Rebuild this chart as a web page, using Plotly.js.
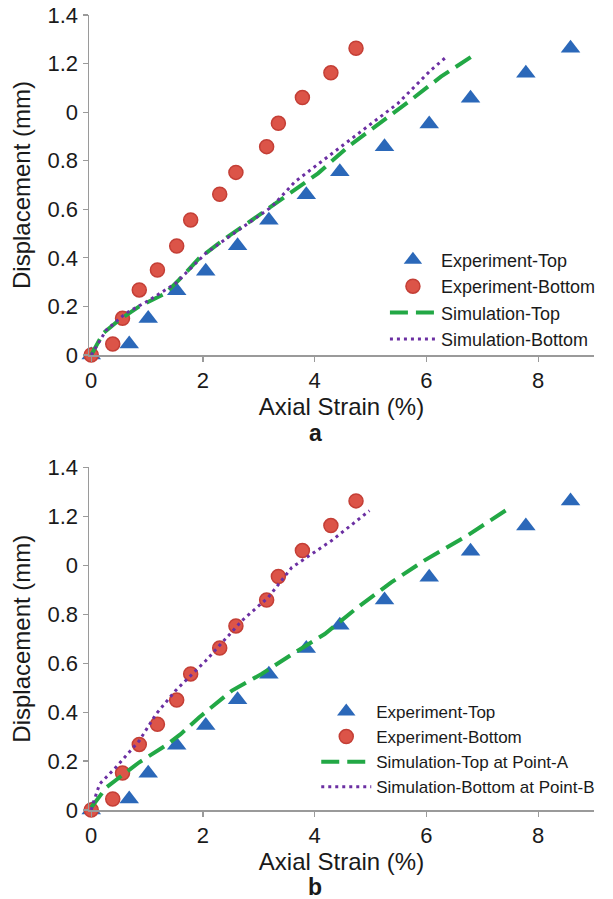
<!DOCTYPE html>
<html>
<head>
<meta charset="utf-8">
<script src="https://cdn.plot.ly/plotly-3.0.1.min.js"></script>
<style>
html,body{margin:0;padding:0;background:#fff;}
#chart{width:613px;height:899px;}
</style>
</head>
<body>
<div id="chart"></div>
<script>
// Experimental data (shared by both panels)
var expTopX = [0, 0.68, 1.02, 1.53, 2.05, 2.62, 3.18, 3.85, 4.45, 5.25, 6.05, 6.79, 7.78, 8.58];
var expTopY = [0, 0.045, 0.15, 0.265, 0.345, 0.45, 0.555, 0.66, 0.755, 0.858, 0.951, 1.057, 1.16, 1.263];
var expBotX = [0, 0.385, 0.56, 0.86, 1.185, 1.53, 1.78, 2.30, 2.59, 3.14, 3.35, 3.78, 4.29, 4.74];
var expBotY = [0, 0.045, 0.151, 0.268, 0.35, 0.449, 0.556, 0.662, 0.752, 0.858, 0.954, 1.06, 1.162, 1.263];

// Panel a simulations
var simTopAX = [0, 0.21, 0.5, 0.86, 1.33, 1.57, 1.93, 2.40, 2.88, 3.47, 3.71, 4.06, 4.6, 5.13, 5.72, 6.26, 6.85];
var simTopAY = [0, 0.089, 0.144, 0.2, 0.254, 0.309, 0.398, 0.48, 0.556, 0.652, 0.693, 0.748, 0.858, 0.947, 1.05, 1.146, 1.235];
var simBotAX = [0, 0.05, 0.27, 0.62, 1.04, 1.51, 2.05, 2.64, 3.23, 3.65, 4.24, 4.89, 5.49, 6.08, 6.35];
var simBotAY = [0, 0.02, 0.103, 0.172, 0.226, 0.295, 0.419, 0.515, 0.61, 0.714, 0.817, 0.933, 1.036, 1.173, 1.226];

// Panel b simulations
var simTopBX = [0, 0.27, 0.86, 1.33, 1.6, 1.93, 2.52, 3.05, 3.65, 4.18, 4.77, 5.37, 5.96, 6.73, 7.46];
var simTopBY = [0.01, 0.092, 0.195, 0.263, 0.31, 0.378, 0.488, 0.556, 0.644, 0.719, 0.828, 0.93, 1.019, 1.121, 1.23];
var simBotBX = [0, 0.03, 0.15, 0.44, 0.86, 1.16, 1.51, 2.05, 2.70, 3.17, 3.59, 4.30, 4.98];
var simBotBY = [0, 0.025, 0.106, 0.174, 0.283, 0.392, 0.488, 0.61, 0.774, 0.869, 0.991, 1.10, 1.223];

var xTickVals = [0, 2, 4, 6, 8];
var xTickText = ['0', '2', '4', '6', '8'];
var yTickVals = [0, 0.2, 0.4, 0.6, 0.8, 1.0, 1.2, 1.4];
var yTickText = ['0', '0.2', '0.4', '0.6', '0.8', '0', '1.2', '1.4'];

var namesA = ['Experiment-Top', 'Experiment-Bottom', 'Simulation-Top', 'Simulation-Bottom'];
var namesB = ['Experiment-Top', 'Experiment-Bottom', 'Simulation-Top at Point-A', 'Simulation-Bottom at Point-B'];

var BLUE = '#2b68b9', RED = '#dc5448', REDLINE = '#c43f36', GREEN = '#22a845', PURPLE = '#6b2fa2';

function expTraces(xa, ya, leg, names) {
  return [
    {x: expTopX, y: expTopY, xaxis: xa, yaxis: ya, legend: leg, name: names[0], mode: 'markers', type: 'scatter', cliponaxis: false,
     marker: {symbol: 'triangle-up', size: 17, color: BLUE}},
    {x: expBotX, y: expBotY, xaxis: xa, yaxis: ya, legend: leg, name: names[1], mode: 'markers', type: 'scatter', cliponaxis: false,
     marker: {symbol: 'circle', size: 14, color: RED, line: {color: REDLINE, width: 1.5}}}
  ];
}

var data = [].concat(
  expTraces('x', 'y', 'legend', namesA),
  [
    {x: simTopAX, y: simTopAY, xaxis: 'x', yaxis: 'y', legend: 'legend', name: namesA[2], mode: 'lines', type: 'scatter', cliponaxis: false,
     line: {color: GREEN, width: 4, dash: '18px,8px'}},
    {x: simBotAX, y: simBotAY, xaxis: 'x', yaxis: 'y', legend: 'legend', name: namesA[3], mode: 'lines', type: 'scatter', cliponaxis: false,
     line: {color: PURPLE, width: 3, dash: '3px,4px'}}
  ],
  expTraces('x2', 'y2', 'legend2', namesB),
  [
    {x: simTopBX, y: simTopBY, xaxis: 'x2', yaxis: 'y2', legend: 'legend2', name: namesB[2], mode: 'lines', type: 'scatter', cliponaxis: false,
     line: {color: GREEN, width: 4, dash: '18px,8px'}},
    {x: simBotBX, y: simBotBY, xaxis: 'x2', yaxis: 'y2', legend: 'legend2', name: namesB[3], mode: 'lines', type: 'scatter', cliponaxis: false,
     line: {color: PURPLE, width: 3, dash: '3px,4px'}}
  ]
);

var FONT = 'Liberation Sans, Arial, sans-serif';
var TXT = '#1a1a1a';
var AXC = '#9a9a9a';

function xAxis(anchor) {
  return {
    anchor: anchor, domain: [0, 1], range: [-0.04, 9.0],
    tickvals: xTickVals, ticktext: xTickText,
    showgrid: false, zeroline: false, showline: true, linecolor: AXC, linewidth: 1.5,
    ticks: 'outside', ticklen: 5, tickcolor: AXC, tickwidth: 1.2,
    tickfont: {family: FONT, size: 22, color: TXT},
    title: {text: 'Axial Strain (%)', font: {family: FONT, size: 24, color: TXT}, standoff: 6}
  };
}
function yAxis(anchor, domain) {
  return {
    anchor: anchor, domain: domain, range: [0, 1.4],
    tickvals: yTickVals, ticktext: yTickText,
    showgrid: false, zeroline: false, showline: true, linecolor: AXC, linewidth: 1.5,
    ticks: 'outside', ticklen: 5, tickcolor: AXC, tickwidth: 1.2,
    tickfont: {family: FONT, size: 22, color: TXT},
    title: {text: 'Displacement (mm)', font: {family: FONT, size: 24, color: TXT}, standoff: 10}
  };
}

var layout = {
  width: 613, height: 899,
  margin: {l: 89, r: 16, t: 15, b: 89},
  paper_bgcolor: '#ffffff', plot_bgcolor: '#ffffff',
  font: {family: FONT, color: TXT},
  showlegend: true,
  xaxis: xAxis('y'),
  yaxis: yAxis('x', [0.5723, 1]),
  xaxis2: xAxis('y2'),
  yaxis2: yAxis('x2', [0, 0.431]),
  legend: {x: 0.586, y: 0.715, xanchor: 'left', yanchor: 'top', bgcolor: 'rgba(0,0,0,0)',
           font: {family: FONT, size: 18, color: TXT}, itemwidth: 46, tracegroupgap: 0},
  legend2: {x: 0.45, y: 0.146, xanchor: 'left', yanchor: 'top', bgcolor: 'rgba(0,0,0,0)',
           font: {family: FONT, size: 17, color: TXT}, itemwidth: 50, tracegroupgap: 0},
  annotations: [
    {text: '<b>a</b>', xref: 'paper', yref: 'paper', x: 0.448, y: 0.474, xanchor: 'center', yanchor: 'middle',
     showarrow: false, font: {family: FONT, size: 23, color: TXT}},
    {text: '<b>b</b>', xref: 'paper', yref: 'paper', x: 0.448, y: -0.097, xanchor: 'center', yanchor: 'middle',
     showarrow: false, font: {family: FONT, size: 23, color: TXT}}
  ]
};

Plotly.newPlot('chart', data, layout, {displayModeBar: false, staticPlot: true});
</script>
</body>
</html>
